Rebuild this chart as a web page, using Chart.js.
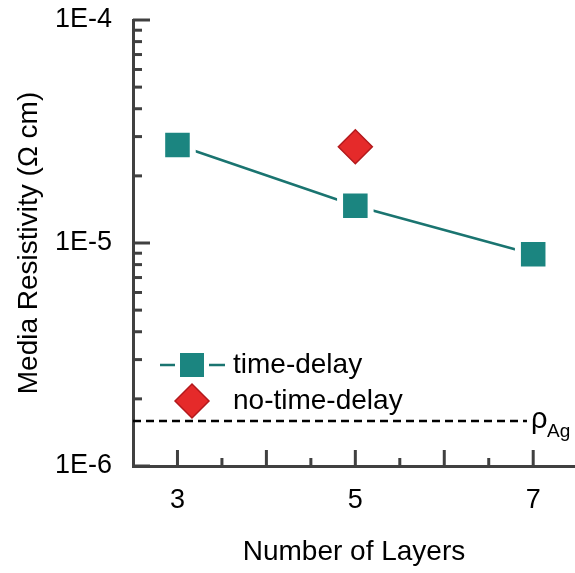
<!DOCTYPE html>
<html>
<head>
<meta charset="utf-8">
<script src="https://cdn.jsdelivr.net/npm/chart.js@4.4.0/dist/chart.umd.min.js"></script>
<style>
  html, body { margin: 0; padding: 0; background: #fff; }
</style>
</head>
<body>
<canvas id="resChart" width="575" height="573"></canvas>
<script>
// Datos
const layers = [3, 5, 7];
const timeDelay = [2.75e-5, 1.47e-5, 8.9e-6];
const noDelayLayers = [5];
const noTimeDelay = [2.7e-5];
const rhoAg = 1.59e-6;
const rhoAgRange = [2.5, 6.93];
const xTicks = [3, 5, 7];
const yTicks = [1e-6, 1e-5, 1e-4];
const seriesNames = ['time-delay', 'no-time-delay'];

const TEAL = '#1b8580';
const TEAL_LINE = '#1a7470';
const RED = '#e52a2a';
const RED_EDGE = '#b3191c';
const AXIS = '#404040';
const TEXT = '#000';
const FONT = '"Liberation Sans", Arial, sans-serif';

// Ticks hacia adentro, leyenda y etiqueta del ρAg
const decorPlugin = {
  id: 'decor',
  afterDraw(chart) {
    const ctx = chart.ctx;
    const x = chart.scales.x;
    const y = chart.scales.y;
    const area = chart.chartArea;
    ctx.save();
    ctx.strokeStyle = AXIS;
    ctx.lineWidth = 3;
    ctx.lineCap = 'butt';

    // ticks eje y
    for (let d = -6; d <= -4; d++) {
      const py = y.getPixelForValue(Math.pow(10, d));
      ctx.beginPath();
      ctx.moveTo(area.left, py);
      ctx.lineTo(area.left + 17, py);
      ctx.stroke();
      if (d < -4) {
        for (let m = 2; m <= 9; m++) {
          const pm = y.getPixelForValue(m * Math.pow(10, d));
          ctx.beginPath();
          ctx.moveTo(area.left, pm);
          ctx.lineTo(area.left + 9, pm);
          ctx.stroke();
        }
      }
    }
    // ticks eje x
    for (let v = 3; v <= 7; v += 0.5) {
      const px = x.getPixelForValue(v);
      const len = Number.isInteger(v) ? 16 : 8;
      ctx.beginPath();
      ctx.moveTo(px, area.bottom);
      ctx.lineTo(px, area.bottom - len);
      ctx.stroke();
    }

    // leyenda
    const lx = 192, ly1 = 365, ly2 = 401;
    ctx.strokeStyle = TEAL_LINE;
    ctx.lineWidth = 2.5;
    ctx.beginPath();
    ctx.moveTo(160, ly1); ctx.lineTo(175, ly1);
    ctx.moveTo(209, ly1); ctx.lineTo(225, ly1);
    ctx.stroke();
    ctx.fillStyle = TEAL;
    ctx.fillRect(lx - 12, ly1 - 12, 24, 24);

    ctx.beginPath();
    ctx.moveTo(lx - 17, ly2);
    ctx.lineTo(lx, ly2 - 17);
    ctx.lineTo(lx + 17, ly2);
    ctx.lineTo(lx, ly2 + 17);
    ctx.closePath();
    ctx.fillStyle = RED;
    ctx.fill();
    ctx.strokeStyle = RED_EDGE;
    ctx.lineWidth = 1.5;
    ctx.stroke();

    ctx.fillStyle = TEXT;
    ctx.font = '28px ' + FONT;
    ctx.textAlign = 'left';
    ctx.textBaseline = 'middle';
    ctx.fillText(seriesNames[0], 233, ly1);
    ctx.fillText(seriesNames[1], 233, ly2);

    // ρAg
    const ry = y.getPixelForValue(rhoAg);
    ctx.font = '29px ' + FONT;
    ctx.textBaseline = 'alphabetic';
    ctx.fillText('ρ', 531, ry + 7);
    ctx.font = '19px ' + FONT;
    ctx.fillText('Ag', 547, ry + 16);
    ctx.restore();
  }
};

new Chart(document.getElementById('resChart').getContext('2d'), {
  type: 'line',
  data: {
    datasets: [
      {
        label: seriesNames[0],
        data: layers.map((l, i) => ({ x: l, y: timeDelay[i] })),
        borderColor: TEAL_LINE,
        borderWidth: 2.5,
        pointStyle: 'rect',
        pointRadius: 21.6,
        pointBackgroundColor: TEAL,
        pointBorderColor: '#ffffff',
        pointBorderWidth: 6,
        showLine: true,
        order: 2
      },
      {
        label: seriesNames[1],
        data: noDelayLayers.map((l, i) => ({ x: l, y: noTimeDelay[i] })),
        showLine: false,
        pointStyle: 'rectRot',
        pointRadius: 17,
        pointBackgroundColor: RED,
        pointBorderColor: RED_EDGE,
        pointBorderWidth: 1.5,
        order: 1
      },
      {
        label: 'rhoAg',
        data: rhoAgRange.map(v => ({ x: v, y: rhoAg })),
        borderColor: '#000',
        borderWidth: 2.5,
        borderDash: [8, 5],
        pointRadius: 0,
        order: 3
      }
    ]
  },
  plugins: [decorPlugin],
  options: {
    responsive: false,
    animation: false,
    devicePixelRatio: 1,
    layout: { autoPadding: false, padding: { top: 20, right: 0, left: 0, bottom: 0 } },
    plugins: {
      legend: { display: false },
      tooltip: { enabled: false }
    },
    scales: {
      x: {
        type: 'linear',
        min: 2.5,
        max: 7.47,
        afterBuildTicks: s => { s.ticks = xTicks.map(v => ({ value: v })); },
        afterFit: s => { s.height = 107; s.paddingLeft = 0; s.paddingRight = 0; },
        grid: { display: false, drawTicks: false },
        border: { display: true, color: AXIS, width: 3 },
        ticks: { color: TEXT, font: { size: 27, family: FONT }, padding: 18 },
        title: { display: true, text: 'Number of Layers', color: TEXT, font: { size: 28, family: FONT }, padding: { top: 0, bottom: 4 } }
      },
      y: {
        type: 'logarithmic',
        min: 1e-6,
        max: 1e-4,
        afterBuildTicks: s => { s.ticks = yTicks.map(v => ({ value: v })); },
        afterFit: s => { s.width = 133; s.paddingTop = 0; s.paddingBottom = 0; },
        grid: { display: false, drawTicks: false },
        border: { display: true, color: AXIS, width: 3 },
        ticks: {
          color: TEXT,
          font: { size: 27, family: FONT },
          padding: 21,
          callback: v => '1E' + Math.round(Math.log10(v))
        },
        title: { display: true, text: 'Media Resistivity (Ω cm)', color: TEXT, font: { size: 28, family: FONT }, padding: { top: 12, bottom: 0 } }
      }
    }
  }
});
</script>
</body>
</html>
